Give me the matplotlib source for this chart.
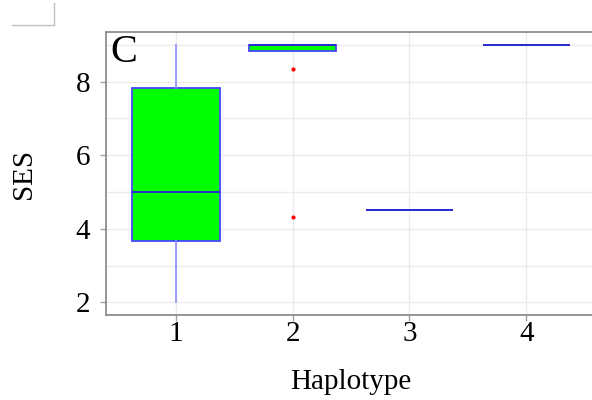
import matplotlib.pyplot as plt
from matplotlib.lines import Line2D

plt.rcParams['font.family'] = ['Liberation Serif', 'DejaVu Serif']

haplotypes = ['1', '2', '3', '4']
whis_lo = [2.0, 8.83, 4.5, 9.0]
q1 = [3.67, 8.83, 4.5, 9.0]
medians = [5.0, 9.0, 4.5, 9.0]
q3 = [7.83, 9.0, 4.5, 9.0]
whis_hi = [9.0, 9.0, 4.5, 9.0]
outliers = [[], [8.33, 4.33], [], []]

stats = []
for i, lab in enumerate(haplotypes):
    stats.append(dict(label=lab, whislo=whis_lo[i], q1=q1[i], med=medians[i],
                      q3=q3[i], whishi=whis_hi[i], fliers=outliers[i]))

fig = plt.figure(figsize=(5.92, 4.0), dpi=100)
ax = fig.add_axes([0.1785, 0.2118, 0.829, 0.7075])

ax.bxp(stats, positions=[1, 2, 3, 4], widths=0.75, patch_artist=True,
       showcaps=False,
       boxprops=dict(facecolor='#00FF00', edgecolor='#4646FF', linewidth=1.3),
       medianprops=dict(color='#2A2AD0', linewidth=1.4),
       whiskerprops=dict(color='#8C8CFF', linewidth=1.2),
       flierprops=dict(marker='o', markersize=3, markerfacecolor='#FF0000',
                       markeredgecolor='none'),
       zorder=3)

ax.set_xlim(0.4, 4.6)
ax.set_ylim(1.647, 9.34)
ax.set_yticks([2, 4, 6, 8])
ax.set_yticks([3, 5, 7, 9], minor=True)
ax.set_xticks([1, 2, 3, 4])
ax.set_xticklabels(haplotypes)

ax.grid(True, which='both', color='#EBEBEB', linewidth=1.0, zorder=0)
ax.set_axisbelow(True)
ax.tick_params(axis='both', which='major', labelsize=21, color='#A0A0A0',
               length=4, width=1, labelcolor='black')
ax.tick_params(axis='y', which='major', pad=7)
ax.tick_params(axis='x', which='major', pad=0)
ax.tick_params(which='minor', length=0)
for s in ax.spines.values():
    s.set_color('#8C8C8C')
    s.set_linewidth(1.3)

ax.set_xlabel('Haplotype', fontsize=21, labelpad=16)
ax.set_ylabel('SES', fontsize=21, labelpad=28)
ax.text(0.01, 0.995, 'C', transform=ax.transAxes, fontsize=29,
        va='top', ha='left')

# corner mark in the upper left
fig.add_artist(Line2D([12 / 592, 54 / 592], [1 - 25 / 400, 1 - 25 / 400],
                      color='#C0C0C0', linewidth=1.0))
fig.add_artist(Line2D([54 / 592, 54 / 592], [1 - 25 / 400, 1 - 3 / 400],
                      color='#C0C0C0', linewidth=1.0))

fig.savefig('out.png', dpi=100)
